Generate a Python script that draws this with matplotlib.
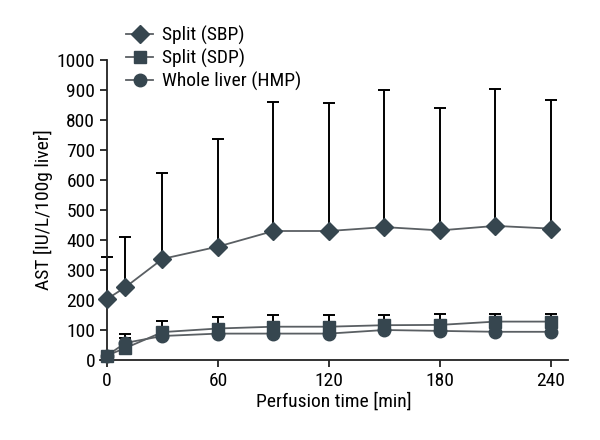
import numpy as np
import matplotlib
matplotlib.use("Agg")
import matplotlib.pyplot as plt
from matplotlib import font_manager

# buscar una fuente angosta (condensada) si existe
nombres = set(f.name for f in font_manager.fontManager.ttflist)
angostas = set(f.name for f in font_manager.fontManager.ttflist
               if f.stretch in ('condensed', 'semi-condensed', 'extra-condensed', 'ultra-condensed'))
fuente = None
for cand in ['Liberation Sans Narrow', 'Roboto Condensed', 'Open Sans Condensed',
             'Noto Sans Condensed', 'DejaVu Sans Condensed', 'Noto Sans Display']:
    if cand in nombres:
        fuente = cand
        break
estirar = 'normal'
if fuente is None:
    for cand in ['Noto Sans', 'Roboto', 'Open Sans', 'DejaVu Sans']:
        if cand in angostas:
            fuente = cand
            estirar = 'condensed'
            break
if fuente is None:
    fuente = 'Roboto'
plt.rcParams['font.family'] = [fuente, 'DejaVu Sans']
plt.rcParams['font.stretch'] = estirar

# tiempos de perfusion [min]
time = [0, 10, 30, 60, 90, 120, 150, 180, 210, 240]

# Split (SBP)
sbp = [203, 243, 337, 378, 430, 430, 443, 432, 447, 438]
sbp_up = [343, 410, 622, 737, 859, 857, 899, 841, 903, 867]

# Split (SDP)
sdp = [15, 40, 93, 105, 111, 111, 116, 117, 128, 128]
sdp_up = [15, 87, 130, 144, 150, 150, 150, 153, 153, 153]

# Whole liver (HMP)
hmp = [15, 57, 80, 88, 88, 88, 100, 97, 94, 94]
hmp_up = [15, 75, 103, 120, 128, 128, 128, 125, 139, 139]

col = '#36464f'
lcol = '#5a5f63'

fig = plt.figure(figsize=(6, 4.4), dpi=100)
ax = fig.add_axes([99.6/600, 80/440, 468/600, 300/440])

def serie(y, up, mk, ms, lab):
    y = np.array(y)
    up = np.array(up)
    err = [np.zeros(len(y)), up - y]
    ax.errorbar(time, y, yerr=err, fmt='none', ecolor='black', elinewidth=1.4,
                capsize=4.5, capthick=1.4, zorder=2, clip_on=False)
    ax.plot(time, y, color=lcol, linewidth=1.3, zorder=3, clip_on=False)
    ax.plot(time, y, linestyle='none', marker=mk, markersize=ms, color=col,
            markeredgecolor=col, zorder=4, clip_on=False)
    # handle para la leyenda
    ax.plot([], [], color=lcol, linewidth=1.3, marker=mk, markersize=ms,
            markerfacecolor=col, markeredgecolor=col, label=lab)

serie(sbp, sbp_up, 'D', 9, 'Split (SBP)')
serie(sdp, sdp_up, 's', 8, 'Split (SDP)')
serie(hmp, hmp_up, 'o', 9, 'Whole liver (HMP)')

ax.set_xlim(-4, 249)
ax.set_ylim(0, 1000)
ax.spines['left'].set_position(('data', 0))
ax.spines['left'].set_bounds(0, 1000)
ax.spines['top'].set_visible(False)
ax.spines['right'].set_visible(False)
for s in ['left', 'bottom']:
    ax.spines[s].set_linewidth(1.3)
    ax.spines[s].set_color('#222222')

ax.set_xticks([0, 60, 120, 180, 240])
ax.set_yticks(np.arange(0, 1001, 100))
ax.tick_params(direction='out', length=5, width=1.3, labelsize=14, colors='#222222',
               labelcolor='black')

ax.set_xlabel('Perfusion time [min]', fontsize=14, labelpad=2)
ax.set_ylabel('AST [IU/L/100g liver]', fontsize=14, labelpad=3)

ax.legend(loc='upper left', bbox_to_anchor=(0.04, 1.14), frameon=False,
          fontsize=14, handlelength=1.4, handletextpad=0.45, labelspacing=0.2,
          borderaxespad=0)

fig.savefig('out.png', dpi=100)
